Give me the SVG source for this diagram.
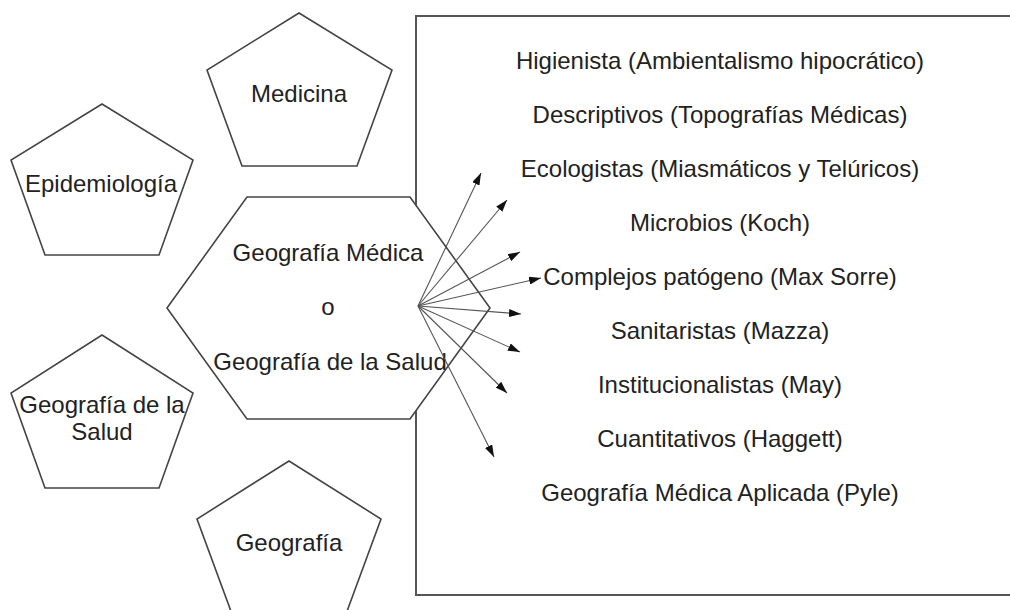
<svg xmlns="http://www.w3.org/2000/svg" width="1010" height="610" viewBox="0 0 1010 610">
  <defs>
    <style>
      .shape { fill: #ffffff; stroke: #444444; stroke-width: 1.6; stroke-linejoin: miter; }
      .frame { fill: none; stroke: #555555; stroke-width: 2; }
      .label { font-family: "Liberation Sans", Arial, sans-serif; font-size: 24px; fill: #222222; text-anchor: middle; }
      .arrow { stroke: #555555; stroke-width: 1.1; fill: none; marker-end: url(#head); }
    </style>
    <marker id="head" viewBox="0 0 12 8" refX="12" refY="4" markerWidth="12" markerHeight="8" markerUnits="userSpaceOnUse" orient="auto">
      <path d="M0,0 L12,4 L0,8 Z" fill="#111111"/>
    </marker>
  </defs>

  <rect width="1010" height="610" fill="#ffffff"/>

  <!-- list of approaches -->
  <g id="approaches">
    <rect class="frame" x="416" y="16" width="610" height="579"/>
    <text class="label" x="720" y="69">Higienista (Ambientalismo hipocrático)</text>
    <text class="label" x="720" y="123">Descriptivos (Topografías Médicas)</text>
    <text class="label" x="720" y="177">Ecologistas (Miasmáticos y Telúricos)</text>
    <text class="label" x="720" y="231">Microbios (Koch)</text>
    <text class="label" x="720" y="285">Complejos patógeno (Max Sorre)</text>
    <text class="label" x="720" y="339">Sanitaristas (Mazza)</text>
    <text class="label" x="720" y="393">Institucionalistas (May)</text>
    <text class="label" x="720" y="447">Cuantitativos (Haggett)</text>
    <text class="label" x="720" y="501">Geografía Médica Aplicada (Pyle)</text>
  </g>

  <!-- central hexagon -->
  <g id="geografia-medica">
    <polygon class="shape" points="167,308 247,197 410,197 490,308 410,419 247,419"/>
    <text class="label" x="328" y="261">Geografía Médica</text>
    <text class="label" x="328" y="315">o</text>
    <text class="label" x="330" y="370">Geografía de la Salud</text>
  </g>

  <!-- surrounding disciplines -->
  <g id="medicina">
    <polygon class="shape" points="299,13 392,70 357,166 242,166 207,70"/>
    <text class="label" x="299" y="102">Medicina</text>
  </g>

  <g id="epidemiologia">
    <polygon class="shape" points="102,104 193,160 159,255 45,255 11,160"/>
    <text class="label" x="101" y="192">Epidemiología</text>
  </g>

  <g id="geografia-salud">
    <polygon class="shape" points="102,335 193,393 159,488 45,488 11,393"/>
    <text class="label" x="102" y="413">Geografía de la</text>
    <text class="label" x="102" y="440">Salud</text>
  </g>

  <g id="geografia">
    <polygon class="shape" points="289,461 381,519 346,614 232,614 197,519"/>
    <text class="label" x="289" y="551">Geografía</text>
  </g>

  <!-- fan of arrows from the hexagon -->
  <g id="connectors">
    <line class="arrow" x1="418" y1="306" x2="481" y2="173"/>
    <line class="arrow" x1="418" y1="306" x2="507" y2="200"/>
    <line class="arrow" x1="418" y1="306" x2="520" y2="252"/>
    <line class="arrow" x1="418" y1="306" x2="541" y2="278"/>
    <line class="arrow" x1="418" y1="306" x2="521" y2="314"/>
    <line class="arrow" x1="418" y1="306" x2="520" y2="352"/>
    <line class="arrow" x1="418" y1="306" x2="507" y2="393"/>
    <line class="arrow" x1="418" y1="306" x2="494" y2="457"/>
  </g>
</svg>
